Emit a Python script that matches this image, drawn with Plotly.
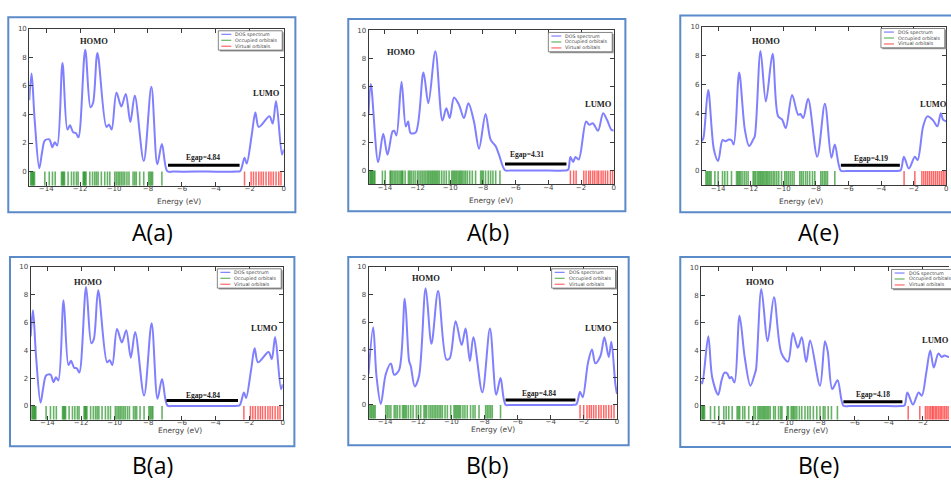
import plotly.graph_objects as go

W, H = 951, 481

# ---------------- data ----------------
panel_names = ["A(a)", "A(b)", "A(e)", "B(a)", "B(b)", "B(e)"]
egap_text = ["4.84", "4.31", "4.19", "4.84", "4.84", "4.18"]
x_ticks = [-14, -12, -10, -8, -6, -4, -2, 0]
y_ticks = [0, 2, 4, 6, 8, 10]
legend_labels = ["DOS spectrum", "Occupied orbitals", "Virtual orbitals"]

# DOS spectra (energy eV, DOS)
dos_E_Aa = [-15.0, -14.86, -14.68, -14.41, -14.25, -14.08, -13.82, -13.63, -13.5, -13.35, -13.04, -12.75,
            -12.6, -12.41, -12.25, -12.1, -11.7, -11.39, -11.24, -10.98, -10.45, -10.29, -10.14, -9.86,
            -9.57, -9.31, -9.04, -8.78, -8.25, -7.8, -7.45, -7.18, -6.86, -6.5, -4.5, -2.8, -2.56, -2.31,
            -2.18, -1.88, -1.67, -1.47, -0.84, -0.65, -0.45, -0.1, 0.0]
dos_D_Aa = [5.0, 6.87, 3.6, 0.23, 1.3, 2.18, 2.25, 1.7, 2.06, 1.83, 7.6, 2.94,
            3.24, 2.75, 2.7, 2.4, 8.54, 4.51, 4.8, 8.31, 3.13, 3.29, 2.94, 5.53,
            4.56, 5.44, 3.47, 5.32, 0.74, 5.95, 0.51, 1.94, 0.02, 0.0, 0.0, 0.0, 0.05, 0.97,
            0.56, 2.6, 4.14, 3.13, 3.87, 3.36, 4.95, 1.2, 1.55]

dos_E_Ab = [-15.0, -14.86, -14.41, -14.1, -13.84, -13.53, -13.43, -13.29, -12.98, -12.72, -12.58, -12.42,
            -12.11, -11.64, -11.34, -10.91, -10.48, -10.24, -10.03, -9.77, -9.46, -9.16, -8.89, -8.55,
            -8.24, -7.84, -7.53, -7.22, -7.02, -6.65, -6.3, -4.5, -3.0, -2.79, -2.65, -2.48, -2.34, -2.14,
            -1.69, -1.49, -1.28, -0.96, -0.65, -0.41, -0.14, 0.0]
dos_D_Ab = [3.97, 6.17, 0.59, 2.62, 1.13, 2.79, 2.84, 2.5, 6.34, 3.14, 3.5, 2.67,
            2.72, 7.0, 4.8, 8.51, 3.57, 4.44, 3.74, 5.22, 4.68, 3.74, 4.8, 3.5,
            1.56, 4.04, 2.2, 1.73, 1.13, 0.02, 0.0, 0.0, 0.0, 0.05, 0.97, 0.61, 0.97, 0.78,
            3.5, 3.26, 3.38, 2.84, 4.09, 3.62, 2.91, 2.86]

dos_E_Ae = [-15.0, -14.9, -14.61, -14.26, -14.0, -13.73, -13.55, -13.34, -13.18, -13.04, -12.71, -12.36,
            -12.1, -11.85, -11.75, -11.4, -11.07, -10.66, -10.32, -10.07, -9.85, -9.46, -9.09, -8.95,
            -8.78, -8.48, -7.92, -7.45, -7.05, -6.84, -6.47, -6.1, -4.5, -3.0, -2.8, -2.6, -2.3, -1.93,
            -1.76, -1.42, -1.16, -0.81, -0.55, -0.34, -0.2, 0.0]
dos_D_Ae = [2.06, 2.29, 5.6, 1.49, 0.69, 2.13, 2.06, 2.17, 2.13, 1.83, 6.82, 2.86,
            1.72, 2.17, 2.4, 8.31, 4.81, 8.12, 3.78, 3.55, 2.97, 5.26, 3.89, 3.94,
            3.66, 4.99, 0.98, 4.65, 0.92, 1.83, 0.02, 0.0, 0.0, 0.0, 0.05, 0.98, 0.16, 0.98,
            0.76, 3.09, 3.78, 3.5, 3.09, 4.0, 3.55, 3.43]

dos_E_Bb = [-15.0, -14.72, -14.52, -14.26, -13.96, -13.65, -13.45, -13.15, -12.81, -12.55, -12.45, -12.21,
            -11.95, -11.55, -11.2, -10.8, -10.3, -10.1, -9.74, -9.38, -9.14, -8.88, -8.67, -8.13,
            -7.67, -7.29, -7.03, -6.73, -6.4, -4.5, -2.7, -2.45, -2.23, -2.07, -1.75, -1.51, -1.31,
            -1.0, -0.76, -0.5, -0.34, -0.1, 0.0]
dos_D_Bb = [2.22, 5.62, 2.1, 0.07, 2.22, 2.99, 2.18, 2.54, 7.68, 3.18, 2.82, 1.34,
            2.1, 8.44, 4.43, 8.25, 3.3, 3.37, 6.05, 4.33, 5.53, 3.18, 4.9, 0.91,
            5.53, 0.74, 1.94, 0.02, 0.0, 0.0, 0.0, 0.05, 0.96, 0.55, 3.06, 4.02, 3.01,
            3.54, 4.9, 3.47, 4.57, 1.5, 0.79]

dos_E_Be = [-15.0, -14.93, -14.58, -14.35, -14.0, -13.81, -13.63, -13.47, -13.32, -13.22, -13.04, -12.75,
            -12.44, -12.11, -11.86, -11.78, -11.47, -11.1, -10.73, -10.3, -9.91, -9.62, -9.33, -9.1,
            -8.84, -8.61, -8.03, -7.74, -7.58, -7.31, -7.0, -6.66, -6.3, -4.5, -3.25, -3.07, -2.91,
            -2.58, -2.25, -2.06, -1.8, -1.57, -1.36, -1.09, -0.89, -0.74, -0.48, -0.2, 0.0]
dos_D_Be = [1.81, 1.62, 5.04, 2.05, 0.81, 1.81, 2.41, 2.34, 2.0, 2.1, 1.69, 6.52,
            3.48, 1.46, 2.29, 2.65, 8.45, 4.68, 7.85, 3.84, 3.2, 5.27, 4.2, 4.96,
            3.17, 4.73, 1.46, 4.68, 3.96, 1.22, 1.86, 0.02, 0.0, 0.0, 0.0, 0.05, 0.98,
            0.1, 0.98, 0.74, 2.41, 4.01, 2.77, 3.79, 3.53, 3.65, 3.53, 3.7, 3.6]

# orbital energies (eV)
occ_Aa = [-14.92, -14.86, -14.80, -14.75, -14.69, -14.08, -13.82, -13.63, -13.47, -13.10, -13.04, -12.98,
          -12.92, -12.71, -12.51, -12.37, -12.22, -12.12, -11.82, -11.76, -11.71, -11.65, -11.43, -11.27,
          -11.14, -11.04, -10.94, -10.75, -10.55, -10.39, -10.25, -9.96, -9.86, -9.76, -9.67, -9.57, -9.47,
          -9.37, -9.24, -9.12, -8.88, -8.78, -8.69, -8.49, -8.25, -7.96, -7.88, -7.80, -7.73, -7.18]
vir_Aa = [-2.31, -1.92, -1.78, -1.63, -1.47, -1.33, -1.20, -1.04, -0.88, -0.75, -0.61, -0.45, -0.29, -0.16]

occ_Ab = [-14.92, -14.86, -14.80, -14.74, -14.67, -14.61, -14.15, -13.98, -13.68, -13.62, -13.53, -13.43,
          -13.33, -13.23, -13.13, -13.03, -12.96, -12.90, -12.76, -12.56, -12.48, -12.39, -12.27, -12.15,
          -12.01, -11.91, -11.80, -11.70, -11.60, -11.50, -11.40, -11.32, -11.23, -11.15, -11.07, -10.99,
          -10.91, -10.83, -10.75, -10.66, -10.52, -10.38, -10.24, -10.07, -9.91, -9.83, -9.75, -9.67, -9.59,
          -9.50, -9.42, -9.34, -9.26, -9.16, -9.06, -8.95, -8.81, -8.65, -8.45, -8.14, -8.06, -7.98, -7.84,
          -7.67, -7.53, -7.39, -7.22, -6.96]
vir_Ab = [-2.65, -2.45, -2.30, -1.83, -1.69, -1.53, -1.42, -1.28, -1.16, -1.02, -0.92, -0.77, -0.65,
          -0.51, -0.37, -0.20, -0.06]

occ_Ae = [-14.75, -14.67, -14.59, -14.51, -14.43, -14.20, -14.00, -13.73, -13.59, -13.43, -13.18, -12.87,
          -12.79, -12.71, -12.63, -12.53, -12.40, -12.28, -12.16, -11.85, -11.77, -11.69, -11.58, -11.50,
          -11.42, -11.34, -11.26, -11.18, -11.09, -11.01, -10.93, -10.83, -10.73, -10.62, -10.52, -10.40,
          -10.28, -10.11, -9.91, -9.81, -9.70, -9.58, -9.46, -9.34, -8.99, -8.89, -8.78, -8.64, -8.52,
          -8.38, -8.21, -8.07, -7.70, -7.60, -7.49, -7.39, -7.29, -6.84]
vir_Ae = [-2.59, -1.93, -1.50, -1.38, -1.26, -1.14, -1.02, -0.90, -0.78, -0.66, -0.54, -0.42, -0.30,
          -0.19, -0.08]

occ_Bb = [-14.92, -14.84, -14.76, -14.68, -14.60, -13.96, -13.86, -13.76, -13.65, -13.45, -13.35, -13.25,
          -13.11, -12.95, -12.87, -12.79, -12.71, -12.59, -12.45, -12.31, -12.11, -11.99, -11.85, -11.65,
          -11.57, -11.49, -11.35, -11.24, -11.14, -11.04, -10.94, -10.84, -10.74, -10.64, -10.54, -10.38,
          -10.24, -10.04, -9.84, -9.76, -9.68, -9.60, -9.52, -9.44, -9.30, -9.18, -9.04, -8.84, -8.69,
          -8.57, -8.33, -7.93, -7.83, -7.73, -7.63, -7.53, -7.03]
vir_Bb = [-2.23, -2.01, -1.81, -1.67, -1.55, -1.41, -1.27, -1.10, -0.96, -0.80, -0.66, -0.50, -0.34, -0.18]

occ_Be = [-14.97, -14.91, -14.86, -14.80, -14.45, -14.21, -13.96, -13.67, -13.53, -13.38, -13.18, -12.89,
          -12.81, -12.74, -12.56, -12.44, -12.21, -11.92, -11.82, -11.67, -11.59, -11.51, -11.43, -11.35,
          -11.28, -11.20, -11.12, -11.04, -10.95, -10.75, -10.65, -10.46, -10.34, -10.26, -9.95, -9.88,
          -9.72, -9.64, -9.57, -9.49, -9.39, -9.24, -9.10, -8.91, -8.75, -8.61, -8.42, -8.22, -8.03,
          -7.84, -7.74, -7.55, -7.36, -7.01]
vir_Be = [-2.86, -2.18, -1.85, -1.75, -1.64, -1.55, -1.45, -1.38, -1.28, -1.20, -1.10, -1.00, -0.92,
          -0.82, -0.72, -0.62, -0.52, -0.40, -0.30, -0.15]

# gap bars (HOMO side, LUMO side) in eV
gap_lo = [-6.82, -6.65, -6.47, -6.92, -6.73, -6.66]
gap_hi = [-2.60, -2.89, -2.85, -2.66, -2.51, -3.20]

# panel B(a) shows the same spectrum as A(a)
dos_E = [dos_E_Aa, dos_E_Ab, dos_E_Ae, dos_E_Aa, dos_E_Bb, dos_E_Be]
dos_D = [dos_D_Aa, dos_D_Ab, dos_D_Ae, dos_D_Aa, dos_D_Bb, dos_D_Be]
occ = [occ_Aa, occ_Ab, occ_Ae, occ_Aa, occ_Bb, occ_Be]
vir = [vir_Aa, vir_Ab, vir_Ae, vir_Aa, vir_Bb, vir_Be]

# ---------------- layout geometry (pixels) ----------------
geo = [
    dict(frame=(8.3, 13.3, 296, 210), x0=29.3, x1=284.3, y10=25.0, ym1=183.4, cap=(152.5, 230)),
    dict(frame=(349, 15, 626.7, 209), x0=369.3, x1=615.0, y10=26.7, ym1=182.0, cap=(489, 230)),
    dict(frame=(681.7, 11.7, 975, 210), x0=703.3, x1=948.3, y10=22.7, ym1=182.9, cap=(820, 230)),
    dict(frame=(10, 255, 295, 446), x0=30.7, x1=283.3, y10=265.0, ym1=419.3, cap=(152.5, 464.5)),
    dict(frame=(349, 255, 630, 445), x0=369.3, x1=618.3, y10=265.0, ym1=418.2, cap=(489, 464.5)),
    dict(frame=(681.7, 255, 975, 446.7), x0=702.6, x1=959.0, y10=265.7, ym1=419.3, cap=(820, 464.5)),
]
homo_pos = [(-11.18, 9.14), (-13.03, 8.46), (-11.09, 9.0), (-11.57, 8.93), (-11.51, 9.16), (-11.53, 8.97)]
lumo_pos = [(-1.04, 5.53), (-0.96, 4.75), (-0.8, 4.62), (-1.08, 5.6), (-1.14, 5.57), (-1.28, 4.73)]
egap_pos = [(-4.73, 0.97), (-5.29, 1.13), (-4.65, 0.85), (-4.74, 0.78), (-4.72, 0.79), (-4.91, 0.86)]
bar_y = [0.44, 0.47, 0.39, 0.38, 0.36, 0.31]

DOS_COLOR = "rgba(0,0,255,0.5)"
OCC_COLOR = "rgba(0,128,0,0.6)"
VIR_COLOR = "rgba(255,0,0,0.6)"
FRAME_BLUE = "#5B8AC8"
AX = "#3a3a3a"


def X(px):
    return px / W


def Y(py):
    return 1 - py / H


fig = go.Figure()
shapes = []
annotations = []
layout_axes = {}

for i in range(6):
    k = i + 1
    sfx = "" if k == 1 else str(k)
    xa, ya = "x" + sfx, "y" + sfx
    g = geo[i]
    x0, x1 = g["x0"], g["x1"]
    xv = min(x1, W)
    e_end = -15 + 15 * (xv - x0) / (x1 - x0)
    ppe = (x1 - x0) / 15.0

    layout_axes["xaxis" + sfx] = dict(
        domain=[X(x0), X(xv)], range=[-15, e_end], anchor=ya,
        tickvals=x_ticks, ticks="inside", ticklen=4, tickwidth=1, tickcolor=AX,
        showline=True, linecolor=AX, linewidth=1, mirror="ticks",
        showgrid=False, zeroline=False, fixedrange=True, ticklabelstandoff=-4,
        tickfont=dict(family="DejaVu Sans", size=7, color="#444"),
    )
    layout_axes["yaxis" + sfx] = dict(
        domain=[Y(g["ym1"]), Y(g["y10"])], range=[-1, 10], anchor=xa,
        tickvals=y_ticks, ticks="inside", ticklen=4, tickwidth=1, tickcolor=AX,
        showline=True, linecolor=AX, linewidth=1,
        mirror=("ticks" if x1 <= W else False),
        showgrid=False, zeroline=False, fixedrange=True,
        tickfont=dict(family="DejaVu Sans", size=7, color="#444"),
    )

    # orbital sticks
    for e in occ[i]:
        fig.add_trace(go.Scatter(x=[e, e], y=[-1, 0], mode="lines", line=dict(color=OCC_COLOR, width=1.6),
                                 xaxis=xa, yaxis=ya, showlegend=False, hoverinfo="skip"))
    for e in vir[i]:
        fig.add_trace(go.Scatter(x=[e, e], y=[-1, 0], mode="lines", line=dict(color=VIR_COLOR, width=1.5),
                                 xaxis=xa, yaxis=ya, showlegend=False, hoverinfo="skip"))
    # DOS
    fig.add_trace(go.Scatter(x=dos_E[i], y=dos_D[i], mode="lines",
                             line=dict(color=DOS_COLOR, width=2, shape="spline", smoothing=0.9),
                             xaxis=xa, yaxis=ya, showlegend=False, name="DOS spectrum"))
    # gap bar
    fig.add_trace(go.Scatter(x=[gap_lo[i], gap_hi[i]], y=[bar_y[i], bar_y[i]], mode="lines",
                             line=dict(color="black", width=3), xaxis=xa, yaxis=ya, showlegend=False))

    # labels
    annotations.append(dict(x=homo_pos[i][0], y=homo_pos[i][1], xref=xa, yref=ya, text="<b>HOMO</b>",
                            showarrow=False, font=dict(family="Liberation Serif", size=8.5, color="#222")))
    annotations.append(dict(x=lumo_pos[i][0], y=lumo_pos[i][1], xref=xa, yref=ya, text="<b>LUMO</b>",
                            showarrow=False, font=dict(family="Liberation Serif", size=8.5, color="#222")))
    annotations.append(dict(x=egap_pos[i][0], y=egap_pos[i][1], xref=xa, yref=ya,
                            text="<b>Egap=" + egap_text[i] + "</b>",
                            showarrow=False, font=dict(family="Liberation Serif", size=7.5, color="#222")))
    # axis title
    annotations.append(dict(x=X(x0 + 7.5 * ppe), y=Y(g["ym1"] + 16.0), xref="paper", yref="paper",
                            text="Energy (eV)", showarrow=False, borderpad=0,
                            font=dict(family="DejaVu Sans", size=7.5, color="#444")))
    # caption
    annotations.append(dict(x=X(g["cap"][0]), y=Y(g["cap"][1]), xref="paper", yref="paper",
                            text=panel_names[i], showarrow=False, xanchor="center", yanchor="middle",
                            borderpad=0, font=dict(family="Open Sans", size=23, color="black")))

    # outer blue frame
    fl, ft, fr, fb = g["frame"]
    shapes.append(dict(type="rect", xref="paper", yref="paper", x0=X(fl), x1=X(fr), y0=Y(fb), y1=Y(ft),
                       line=dict(color=FRAME_BLUE, width=2), fillcolor="rgba(0,0,0,0)", layer="above"))

    # legend box
    lr = x1 - 1.5
    lt = g["y10"] + 2.0
    ll = lr - 64
    lb = lt + 19.5
    shapes.append(dict(type="rect", xref="paper", yref="paper", x0=X(ll + 1.5), x1=X(lr + 1.5),
                       y0=Y(lb + 1.5), y1=Y(lt + 1.5), line=dict(width=0), fillcolor="#9a9a9a", layer="above"))
    shapes.append(dict(type="rect", xref="paper", yref="paper", x0=X(ll), x1=X(lr), y0=Y(lb), y1=Y(lt),
                       line=dict(color="#666", width=0.8), fillcolor="white", layer="above"))
    for r, (lab, col) in enumerate(zip(legend_labels, [DOS_COLOR, "rgba(0,128,0,0.6)", VIR_COLOR])):
        yy = lt + 3.6 + 6.0 * r
        shapes.append(dict(type="line", xref="paper", yref="paper", x0=X(ll + 3), x1=X(ll + 13),
                           y0=Y(yy), y1=Y(yy), line=dict(color=col, width=1.2), layer="above"))
        annotations.append(dict(x=X(ll + 16), y=Y(yy), xref="paper", yref="paper", text=lab,
                                showarrow=False, xanchor="left", yanchor="middle", borderpad=0,
                                font=dict(family="DejaVu Sans", size=4.8, color="#444")))

fig.update_layout(
    width=W, height=H, margin=dict(l=0, r=0, t=0, b=0),
    paper_bgcolor="white", plot_bgcolor="white", showlegend=False,
    shapes=shapes, annotations=annotations, **layout_axes,
)

fig.write_html("out.html", config={"displayModeBar": False},
               post_script="document.body.style.margin='0';document.body.style.overflow='hidden';")
